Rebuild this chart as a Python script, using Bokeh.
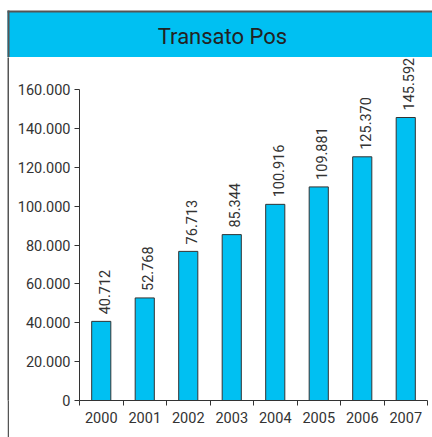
import math
from bokeh.plotting import figure
from bokeh.layouts import column, row
from bokeh.models import (ColumnDataSource, Range1d, FixedTicker, LabelSet, Label)
from bokeh.core.properties import value
from bokeh.embed import file_html
from bokeh.resources import INLINE

# ---- data ----
years = ["2000", "2001", "2002", "2003", "2004", "2005", "2006", "2007"]
values = [40712, 52768, 76713, 85344, 100916, 109881, 125370, 145592]
value_labels = ["40.712", "52.768", "76.713", "85.344", "100.916", "109.881", "125.370", "145.592"]
y_ticks = [0, 20000, 40000, 60000, 80000, 100000, 120000, 140000, 160000]
y_tick_labels = ["0", "20.000", "40.000", "60.000", "80.000", "100.000", "120.000", "140.000", "160.000"]
title_text = "Transato Pos"

FONT = "Roboto"
CYAN = "#00C0F2"
DARK = "#333333"
BORDER = "#555555"
W = 432
TITLE_H = 57
CHART_H = 380
PAD_W = 7
LINE_W = 2


def blank(width, height, fill):
    f = figure(width=width, height=height, output_backend="svg", toolbar_location=None,
               x_range=Range1d(0, 1), y_range=Range1d(0, 1),
               min_border=0, min_border_left=0, min_border_right=0,
               min_border_top=0, min_border_bottom=0)
    f.axis.visible = False
    f.grid.visible = False
    f.outline_line_color = None
    f.background_fill_color = fill
    f.border_fill_color = fill
    return f


# ---- title strip ----
tf = figure(width=W, height=TITLE_H, output_backend="svg", toolbar_location=None,
            x_range=Range1d(0, W), y_range=Range1d(TITLE_H, 0),
            min_border=0, min_border_left=0, min_border_right=0,
            min_border_top=0, min_border_bottom=0)
tf.axis.visible = False
tf.grid.visible = False
tf.outline_line_color = None
tf.background_fill_color = "white"
tf.border_fill_color = "white"
tf.quad(left=7, right=W, top=11, bottom=TITLE_H, fill_color=CYAN, line_color=None)
tf.segment(x0=7, y0=11, x1=W, y1=11, line_color=BORDER, line_width=2)
tf.segment(x0=8, y0=10, x1=8, y1=TITLE_H, line_color=BORDER, line_width=2)
tf.add_layout(Label(x=222, y=36, text=title_text, text_align="center",
                    text_baseline="middle", text_font=FONT,
                    text_font_size="22px", text_color="#222222"))

# ---- left border strip ----
pad = blank(PAD_W, CHART_H, "white")
line = blank(LINE_W, CHART_H, BORDER)

# ---- chart ----
centers = [i + 0.5 for i in range(len(years))]
src = ColumnDataSource(dict(x=centers, top=values, lab=value_labels))

frame_top_px, zero_px, max_px = 57, 400, 89
y_end = y_ticks[-1] * (zero_px - frame_top_px) / (zero_px - max_px)

p = figure(width=W - PAD_W - LINE_W, height=CHART_H, output_backend="svg",
           toolbar_location=None,
           x_range=Range1d(0, len(years)), y_range=Range1d(0, y_end),
           min_border_left=79 - PAD_W - LINE_W, min_border_right=5, min_border_top=0,
           min_border_bottom=37)
p.outline_line_color = None
p.grid.grid_line_color = None
p.background_fill_color = "white"
p.border_fill_color = "white"

p.vbar(x="x", top="top", width=0.44, source=src, fill_color=CYAN,
       line_color=DARK, line_width=1)

ya = p.yaxis[0]
ya.bounds = (y_ticks[0], y_ticks[-1])
ya.ticker = FixedTicker(ticks=y_ticks)
ya.major_label_overrides = {t: l for t, l in zip(y_ticks, y_tick_labels)}
ya.axis_line_color = DARK
ya.major_tick_line_color = DARK
ya.major_tick_out = 5
ya.major_tick_in = 0
ya.minor_tick_line_color = None
ya.major_label_standoff = 4
ya.major_label_text_font = FONT
ya.major_label_text_font_size = "14.5px"
ya.major_label_text_color = DARK

xa = p.xaxis[0]
xa.ticker = FixedTicker(ticks=centers, minor_ticks=list(range(len(years) + 1)))
xa.major_label_overrides = {c: y for c, y in zip(centers, years)}
xa.axis_line_color = DARK
xa.major_tick_line_color = None
xa.major_tick_out = 5
xa.major_tick_in = 0
xa.minor_tick_line_color = DARK
xa.minor_tick_out = 5
xa.minor_tick_in = 0
xa.major_label_standoff = 6
xa.major_label_text_font = FONT
xa.major_label_text_font_size = "14.5px"
xa.major_label_text_color = DARK

labels = LabelSet(x="x", y="top", text="lab", source=src, angle=math.pi / 2,
                  text_align="left", text_baseline="middle", y_offset=7,
                  x_offset=3, text_font=value(FONT), text_font_size="14.5px",
                  text_color=DARK)
p.add_layout(labels)

layout = column(tf, row(pad, line, p, spacing=0), spacing=0)
open("out.html", "w").write(file_html(layout, INLINE))
